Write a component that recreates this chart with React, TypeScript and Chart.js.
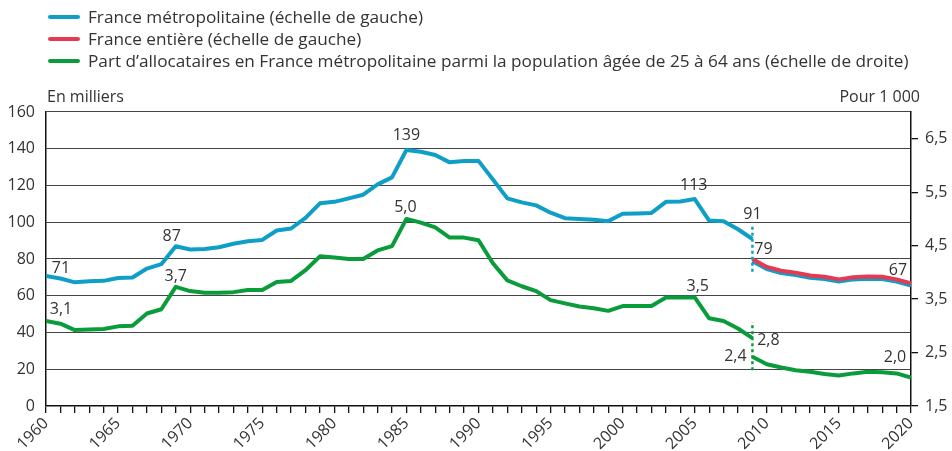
import React, { useEffect, useRef } from "react";
import { Chart, registerables } from "chart.js";

Chart.register(...registerables);

// ---------- Data ----------
const yearsBefore = [
  1960, 1961, 1962, 1963, 1964, 1965, 1966, 1967, 1968, 1969,
  1970, 1971, 1972, 1973, 1974, 1975, 1976, 1977, 1978, 1979,
  1980, 1981, 1982, 1983, 1984, 1985, 1986, 1987, 1988, 1989,
  1990, 1991, 1992, 1993, 1994, 1995, 1996, 1997, 1998, 1999,
  2000, 2001, 2002, 2003, 2004, 2005, 2006, 2007, 2008, 2009,
];
const yearsAfter = [2009, 2010, 2011, 2012, 2013, 2014, 2015, 2016, 2017, 2018, 2019, 2020];

// France métropolitaine (milliers), ancienne série
const metroBefore = [
  70.8, 69.4, 67.3, 67.9, 68.1, 69.7, 69.9, 74.8, 77.2, 86.9,
  85.2, 85.5, 86.4, 88.3, 89.7, 90.4, 95.5, 96.6, 102.4, 110.3,
  111.1, 113.0, 115.0, 120.6, 124.4, 139.3, 138.4, 136.6, 132.6, 133.3,
  133.4, 123.3, 113.0, 110.8, 109.2, 105.2, 102.2, 101.8, 101.3, 100.6,
  104.6, 104.8, 105.1, 111.1, 111.3, 112.6, 100.9, 100.6, 96.2, 90.9,
];
// France métropolitaine (milliers), nouvelle série
const metroAfter = [78.8, 74.5, 72.4, 71.3, 69.8, 69.1, 67.7, 68.9, 69.3, 69.1, 67.7, 65.5];
// France entière (milliers)
const entiereAfter = [80.0, 75.7, 73.6, 72.5, 71.0, 70.3, 68.9, 70.1, 70.5, 70.3, 68.9, 66.7];

// Part pour 1 000 (échelle de droite)
const partBefore = [
  3.09, 3.04, 2.92, 2.93, 2.94, 2.99, 3.0, 3.23, 3.31, 3.73,
  3.65, 3.62, 3.62, 3.63, 3.67, 3.67, 3.82, 3.84, 4.04, 4.3,
  4.28, 4.25, 4.25, 4.41, 4.49, 5.0, 4.93, 4.84, 4.65, 4.65,
  4.6, 4.17, 3.85, 3.74, 3.65, 3.48, 3.42, 3.36, 3.33, 3.28,
  3.37, 3.37, 3.37, 3.53, 3.53, 3.53, 3.14, 3.09, 2.95, 2.77,
];
const partAfter = [2.42, 2.28, 2.22, 2.17, 2.14, 2.1, 2.07, 2.11, 2.14, 2.13, 2.11, 2.03];

// break marker (2009)
const breakYear = 2009;
const breakMetroRange = [73, 97.5];
const breakPartRange = [2.17, 3.07];

// axes
const leftTicks = [0, 20, 40, 60, 80, 100, 120, 140, 160];
const rightTicks = [1.5, 2.5, 3.5, 4.5, 5.5, 6.5];
const xMin = 1960;
const xMax = 2020;
const rightMin = 1.5;
const rightMax = 7.0;

// texts
const legendLabels = [
  "France métropolitaine (échelle de gauche)",
  "France entière (échelle de gauche)",
  "Part d’allocataires en France métropolitaine parmi la population âgée de 25 à 64 ans (échelle de droite)",
];
const leftUnit = "En milliers";
const rightUnit = "Pour 1 000";

// value labels: series key, year, text
const labelSeries = ["metroBefore", "metroBefore", "metroBefore", "metroBefore", "metroBefore", "entiereAfter", "entiereAfter",
  "partBefore", "partBefore", "partBefore", "partBefore", "partBefore", "partAfter", "partAfter"];
const labelYears = [1960, 1969, 1985, 2005, 2009, 2009, 2020, 1960, 1969, 1985, 2005, 2009, 2009, 2020];
const labelTexts = ["71", "87", "139", "113", "91", "79", "67", "3,1", "3,7", "5,0", "3,5", "2,8", "2,4", "2,0"];

// ---------- Styles ----------
const BLUE = "#0f9fc6";
const RED = "#e63a52";
const GREEN = "#0a9c3a";
const TEXT = "#333333";
const FONT = "'Open Sans', 'DejaVu Sans', sans-serif";
const labelOffsets: [number, number][] = [
  [15, -7], [-4, -10], [0, -15], [-1, -14], [0, -25], [11, -10], [-13, -13],
  [15, -12], [0, -10], [-1, -11], [3, -11], [16, 2], [-17, 0], [-16, -20],
];

const seriesMap: Record<string, { years: number[]; values: number[]; axis: string }> = {
  metroBefore: { years: yearsBefore, values: metroBefore, axis: "y" },
  entiereAfter: { years: yearsAfter, values: entiereAfter, axis: "y" },
  partBefore: { years: yearsBefore, values: partBefore, axis: "y2" },
  partAfter: { years: yearsAfter, values: partAfter, axis: "y2" },
};

const toPoints = (xs: number[], ys: number[]) => xs.map((x, i) => ({ x, y: ys[i] }));

const decorPlugin = {
  id: "decor",
  afterDraw(chart: any) {
    const ctx = chart.ctx as CanvasRenderingContext2D;
    const colors = [BLUE, RED, GREEN];
    ctx.save();
    // legend
    const legendY = [17, 39, 61];
    legendLabels.forEach((t, i) => {
      ctx.strokeStyle = colors[i];
      ctx.lineWidth = 4;
      ctx.lineCap = "round";
      ctx.beginPath();
      ctx.moveTo(50, legendY[i]);
      ctx.lineTo(78, legendY[i]);
      ctx.stroke();
      ctx.fillStyle = TEXT;
      ctx.font = `17.2px ${FONT}`;
      ctx.textAlign = "left";
      ctx.textBaseline = "middle";
      ctx.fillText(t, 88, legendY[i] + 1);
    });
    // units
    ctx.font = `16px ${FONT}`;
    ctx.fillStyle = TEXT;
    ctx.textBaseline = "middle";
    ctx.textAlign = "left";
    ctx.fillText(leftUnit, chart.chartArea.left + 1, 97);
    ctx.textAlign = "right";
    ctx.fillText(rightUnit, 920, 97);

    // value labels
    const xs = chart.scales.x;
    ctx.font = `16px ${FONT}`;
    ctx.textAlign = "center";
    ctx.textBaseline = "middle";
    labelTexts.forEach((t, i) => {
      const s = seriesMap[labelSeries[i]];
      const idx = s.years.indexOf(labelYears[i]);
      const px = xs.getPixelForValue(labelYears[i]);
      const py = chart.scales[s.axis].getPixelForValue(s.values[idx]);
      const [dx, dy] = labelOffsets[i];
      ctx.fillText(t, px + dx, py + dy);
    });
    ctx.restore();
  },
};

export default function App() {
  const canvasRef = useRef<HTMLCanvasElement | null>(null);

  useEffect(() => {
    if (!canvasRef.current) return;
    const lineBase = {
      pointRadius: 0,
      pointHoverRadius: 0,
      borderWidth: 4,
      tension: 0,
      borderJoinStyle: "round" as const,
      borderCapStyle: "butt" as const,
      fill: false,
    };
    const chart = new Chart(canvasRef.current, {
      type: "line",
      data: {
        datasets: [
          { ...lineBase, label: "breakMetro", data: toPoints([breakYear, breakYear], breakMetroRange), borderColor: BLUE, borderWidth: 2.5, borderDash: [3, 3], yAxisID: "y", order: 0 },
          { ...lineBase, label: "breakPart", data: toPoints([breakYear, breakYear], breakPartRange), borderColor: GREEN, borderWidth: 2.5, borderDash: [3, 3], yAxisID: "y2", order: 0 },
          { ...lineBase, label: legendLabels[1], data: toPoints(yearsAfter, entiereAfter), borderColor: RED, yAxisID: "y", order: 1 },
          { ...lineBase, label: legendLabels[0], data: toPoints(yearsAfter, metroAfter), borderColor: BLUE, yAxisID: "y", order: 2 },
          { ...lineBase, label: legendLabels[0], data: toPoints(yearsBefore, metroBefore), borderColor: BLUE, yAxisID: "y", order: 2 },
          { ...lineBase, label: legendLabels[2], data: toPoints(yearsBefore, partBefore), borderColor: GREEN, yAxisID: "y2", order: 3 },
          { ...lineBase, label: legendLabels[2], data: toPoints(yearsAfter, partAfter), borderColor: GREEN, yAxisID: "y2", order: 3 },
        ],
      },
      options: {
        animation: false,
        responsive: false,
        events: [],
        layout: { padding: { top: 112, left: 0, right: 0, bottom: 0 } },
        plugins: { legend: { display: false }, tooltip: { enabled: false }, title: { display: false } },
        scales: {
          x: {
            type: "linear",
            min: xMin,
            max: xMax,
            afterBuildTicks: (scale: any) => {
              const t: { value: number }[] = [];
              for (let v = xMin; v <= xMax; v++) t.push({ value: v });
              scale.ticks = t;
            },
            afterFit: (scale: any) => {
              scale.height = 45;
            },
            ticks: {
              autoSkip: false,
              minRotation: 45,
              maxRotation: 45,
              padding: 1,
              color: TEXT,
              font: { family: FONT, size: 16 },
              callback: (v: any) => (Number(v) % 5 === 0 ? String(v) : ""),
            },
            grid: { drawOnChartArea: false, drawTicks: true, tickLength: 7, color: "#111", lineWidth: 1.3 },
            border: { display: true, color: "#111", width: 1.5 },
          },
          y: {
            type: "linear",
            position: "left",
            min: 0,
            max: 160,
            afterBuildTicks: (scale: any) => {
              scale.ticks = leftTicks.map((value) => ({ value }));
            },
            afterFit: (scale: any) => {
              scale.width = 46;
            },
            ticks: { padding: 11, color: TEXT, font: { family: FONT, size: 16 } },
            grid: { drawTicks: false, color: "#444", lineWidth: 1.1 },
            border: { display: true, color: "#111", width: 1.5 },
          },
          y2: {
            type: "linear",
            position: "right",
            min: rightMin,
            max: rightMax,
            afterBuildTicks: (scale: any) => {
              scale.ticks = rightTicks.map((value) => ({ value }));
            },
            afterFit: (scale: any) => {
              scale.width = 41;
            },
            ticks: {
              padding: 7,
              color: TEXT,
              font: { family: FONT, size: 16 },
              callback: (v: any) => Number(v).toFixed(1).replace(".", ","),
            },
            grid: { drawOnChartArea: false, drawTicks: true, tickLength: 7, color: "#111", lineWidth: 1.3 },
            border: { display: true, color: "#111", width: 1.5 },
          },
        },
      },
      plugins: [decorPlugin],
    });
    return () => chart.destroy();
  }, []);

  return (
    <div style={{ position: "fixed", left: 0, top: 0, width: 952, height: 451, background: "#fff" }}>
      <canvas ref={canvasRef} width={952} height={451} style={{ display: "block" }} />
    </div>
  );
}
